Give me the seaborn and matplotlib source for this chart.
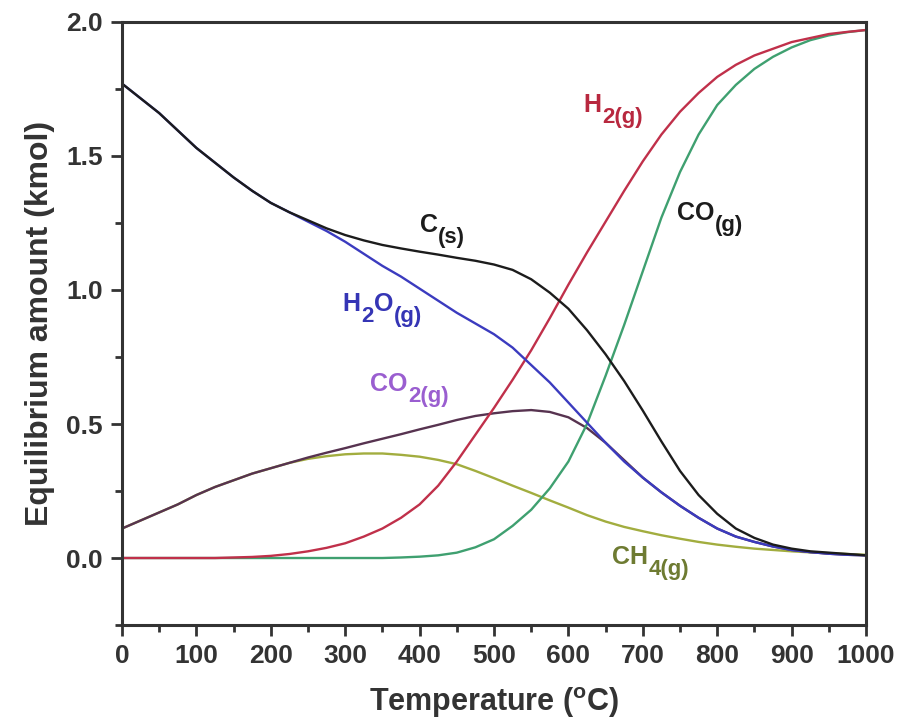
import numpy as np
import pandas as pd
import matplotlib
matplotlib.use("Agg")
import matplotlib.pyplot as plt
import seaborn as sns
from matplotlib.ticker import MultipleLocator, FormatStrFormatter

# 温度 (°C)
temperature = list(range(0, 1001, 25))

# 平衡量 (kmol)
c_s = [1.77, 1.715, 1.66, 1.595, 1.53, 1.475, 1.42, 1.37, 1.325, 1.29,
       1.26, 1.23, 1.205, 1.185, 1.168, 1.155, 1.143, 1.132, 1.12, 1.109,
       1.095, 1.075, 1.04, 0.99, 0.93, 0.85, 0.76, 0.66, 0.55, 0.435,
       0.325, 0.235, 0.165, 0.11, 0.075, 0.05, 0.035, 0.025, 0.02, 0.015, 0.01]
h2o_g = [1.77, 1.715, 1.66, 1.595, 1.53, 1.475, 1.42, 1.37, 1.325, 1.29,
         1.255, 1.22, 1.18, 1.135, 1.09, 1.05, 1.005, 0.96, 0.915, 0.875,
         0.835, 0.785, 0.72, 0.655, 0.58, 0.505, 0.43, 0.36, 0.30, 0.245,
         0.195, 0.15, 0.11, 0.08, 0.06, 0.043, 0.03, 0.022, 0.016, 0.012, 0.01]
h2_g = [0.0, 0.0, 0.0, 0.0, 0.0, 0.0, 0.002, 0.004, 0.008, 0.015,
        0.025, 0.038, 0.055, 0.08, 0.11, 0.15, 0.20, 0.27, 0.36, 0.46,
        0.56, 0.665, 0.775, 0.895, 1.02, 1.14, 1.255, 1.37, 1.48, 1.58,
        1.665, 1.735, 1.795, 1.84, 1.875, 1.90, 1.925, 1.94, 1.955, 1.963, 1.97]
co_g = [0.0, 0.0, 0.0, 0.0, 0.0, 0.0, 0.0, 0.0, 0.0, 0.0,
        0.0, 0.0, 0.0, 0.0, 0.0, 0.002, 0.005, 0.01, 0.02, 0.04,
        0.07, 0.12, 0.18, 0.26, 0.36, 0.50, 0.68, 0.87, 1.07, 1.27,
        1.44, 1.58, 1.69, 1.765, 1.825, 1.87, 1.905, 1.932, 1.95, 1.962, 1.97]
co2_g = [0.11, 0.14, 0.17, 0.20, 0.235, 0.265, 0.29, 0.315, 0.335, 0.355,
         0.375, 0.393, 0.41, 0.428, 0.445, 0.462, 0.48, 0.497, 0.515, 0.53,
         0.54, 0.548, 0.552, 0.545, 0.525, 0.485, 0.43, 0.365, 0.30, 0.245,
         0.195, 0.15, 0.11, 0.08, 0.06, 0.043, 0.03, 0.022, 0.016, 0.012, 0.01]
ch4_g = [0.11, 0.14, 0.17, 0.20, 0.235, 0.265, 0.29, 0.315, 0.335, 0.355,
         0.37, 0.38, 0.387, 0.39, 0.39, 0.385, 0.378, 0.366, 0.35, 0.325,
         0.298, 0.27, 0.243, 0.215, 0.188, 0.16, 0.136, 0.116, 0.10, 0.085,
         0.072, 0.06, 0.05, 0.042, 0.035, 0.03, 0.025, 0.021, 0.018, 0.015, 0.012]

species = ["CH4", "CO2", "CO", "H2", "H2O", "C"]
colors = {"C": "#1c1c1c", "H2O": "#3b3bbf", "H2": "#c0304a",
          "CO": "#3fa070", "CO2": "#573350", "CH4": "#a2ad3f"}

df = pd.DataFrame({"T": temperature, "C": c_s, "H2O": h2o_g, "H2": h2_g,
                   "CO": co_g, "CO2": co2_g, "CH4": ch4_g})
long = df.melt(id_vars="T", var_name="species", value_name="amount")

sns.set_theme(style="ticks")
plt.rcParams["font.family"] = ["Liberation Sans", "DejaVu Sans"]
plt.rcParams["font.weight"] = "bold"
plt.rcParams["mathtext.fontset"] = "custom"
plt.rcParams["mathtext.rm"] = "Liberation Sans:bold"
plt.rcParams["mathtext.it"] = "Liberation Sans:bold"
plt.rcParams["mathtext.bf"] = "Liberation Sans:bold"
plt.rcParams["mathtext.default"] = "rm"

fig = plt.figure(figsize=(8.99, 7.25), dpi=100)
ax = fig.add_axes([0.1357, 0.1379, 0.8276, 0.8318])

sns.lineplot(data=long, x="T", y="amount", hue="species", hue_order=species,
             palette=colors, linewidth=1.7, legend=False, ax=ax)

ax.set_xlim(0, 1000)
ax.set_ylim(-0.25, 2.0)
ax.xaxis.set_major_locator(MultipleLocator(100))
ax.xaxis.set_minor_locator(MultipleLocator(50))
ax.yaxis.set_major_locator(MultipleLocator(0.5))
ax.yaxis.set_minor_locator(MultipleLocator(0.25))
ax.yaxis.set_major_formatter(FormatStrFormatter("%.1f"))

for s in ax.spines.values():
    s.set_linewidth(2.2)
    s.set_color("#333333")
ax.tick_params(which="major", direction="out", length=8, width=2,
               color="#333333", labelsize=19, labelcolor="#333333", pad=6)
ax.tick_params(which="minor", direction="out", length=5, width=2,
               color="#333333")

ax.set_xlabel(r"Temperature ($^{\mathrm{o}}$C)", fontsize=22,
              fontweight="bold", color="#333333", labelpad=12)
ax.set_ylabel("Equilibrium amount (kmol)", fontsize=23,
              fontweight="bold", color="#333333", labelpad=8)


# 化学式ラベル（下付き文字を大きめに）
def chem_label(x, y, parts, color, size=18, sub_size=16, drop=-8):
    prev = None
    for text, sub in parts:
        fs = sub_size if sub else size
        dy = drop if sub else 0
        if prev is None:
            prev = ax.annotate(text, xy=(x, y), xycoords="data",
                               xytext=(0, dy), textcoords="offset points",
                               fontsize=fs, fontweight="bold", color=color,
                               ha="left", va="baseline")
        else:
            prev = ax.annotate(text, xy=(1, y), xycoords=(prev, "data"),
                               xytext=(0.5, dy), textcoords="offset points",
                               fontsize=fs, fontweight="bold", color=color,
                               ha="left", va="baseline")


chem_label(400, 1.215, [("C", False), ("(s)", True)], "#1c1c1c")
chem_label(296, 0.923, [("H", False), ("2", True), ("O", False), ("(g)", True)], "#3535b5")
chem_label(333, 0.624, [("CO", False), ("2(g)", True)], "#9a5ed0")
chem_label(620, 1.664, [("H", False), ("2(g)", True)], "#b8283f")
chem_label(746, 1.26, [("CO", False), ("(g)", True)], "#1c1c1c")
chem_label(659, -0.022, [("CH", False), ("4(g)", True)], "#6e7b32")

fig.savefig("out.png", dpi=100)
